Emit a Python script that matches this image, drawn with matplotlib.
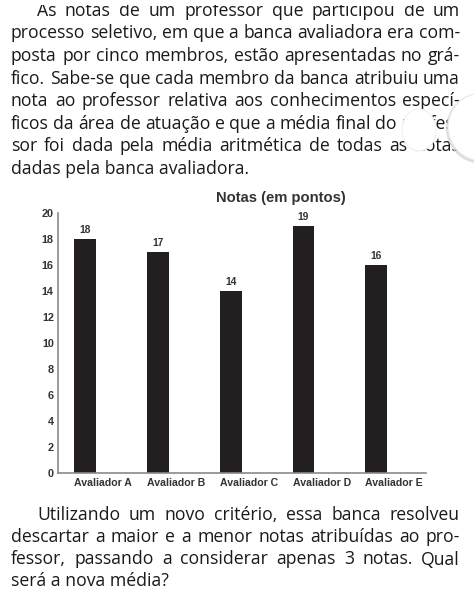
import matplotlib
matplotlib.use("Agg")
import matplotlib.pyplot as plt
from matplotlib.patches import Ellipse, Rectangle

# ---- data ----
avaliadores = ["Avaliador A", "Avaliador B", "Avaliador C", "Avaliador D", "Avaliador E"]
notas = [18, 17, 14, 19, 16]
yticks = [0, 2, 4, 6, 8, 10, 12, 14, 16, 18, 20]
titulo = "Notas (em pontos)"

para1 = [
    "As notas de um professor que participou de um",
    "processo seletivo, em que a banca avaliadora era com-",
    "posta por cinco membros, estão apresentadas no grá-",
    "fico. Sabe-se que cada membro da banca atribuiu uma",
    "nota ao professor relativa aos conhecimentos especí-",
    "ficos da área de atuação e que a média final do profes-",
    "sor foi dada pela média aritmética de todas as notas",
    "dadas pela banca avaliadora.",
]
para2 = [
    "Utilizando um novo critério, essa banca resolveu",
    "descartar a maior e a menor notas atribuídas ao pro-",
    "fessor, passando a considerar apenas 3 notas. Qual",
    "será a nova média?",
]

W, H = 474, 597
fig = plt.figure(figsize=(W / 100, H / 100), dpi=100)
fig.patch.set_facecolor("white")
renderer = fig.canvas.get_renderer()

def fx(x):
    return x / W

def fy(y):
    return 1 - y / H

BODY_FONT = "Open Sans"
TXT_COLOR = "#1a1a1a"

# calibrate body font size from a reference line width (layout only)
probe = fig.text(0, 0, para1[-1], family=BODY_FONT, fontsize=12)
w12 = probe.get_window_extent(renderer).width
probe.remove()
BODY_SIZE = 12 * 237 / w12

def draw_line(text, xl, xr, ybase, justify):
    if not justify:
        fig.text(fx(xl), fy(ybase), text, family=BODY_FONT, fontsize=BODY_SIZE,
                 color=TXT_COLOR, va="baseline", ha="left")
        return
    words = text.split(" ")
    objs = []
    widths = []
    for wd in words:
        t = fig.text(0, fy(ybase), wd, family=BODY_FONT, fontsize=BODY_SIZE,
                     color=TXT_COLOR, va="baseline", ha="left")
        objs.append(t)
        widths.append(t.get_window_extent(renderer).width)
    gap = (xr - xl - sum(widths)) / max(len(words) - 1, 1)
    x = xl
    for t, wd in zip(objs, widths):
        t.set_x(fx(x))
        x += wd + gap

XL, XR, INDENT = 11, 460, 37
base1 = [16, 38.5, 61, 84, 106.5, 129, 151.5, 174]
for i, line in enumerate(para1):
    xl = INDENT if i == 0 else XL
    draw_line(line, xl, XR, base1[i], justify=(i < len(para1) - 1))

base2 = [520, 542.5, 564.5, 586.5]
for i, line in enumerate(para2):
    xl = INDENT if i == 0 else XL
    draw_line(line, xl, XR, base2[i], justify=(i < len(para2) - 1))

# ---- chart ----
BAR_W = 0.30
ax = fig.add_axes([fx(58), fy(472.7), fx(426) - fx(58), fy(212.7) - fy(472.7)])
xpos = list(range(len(notas)))
ax.bar(xpos, notas, width=BAR_W, color="#231f20", zorder=2)
ax.set_xlim(-0.374, 4.683)
ax.set_ylim(0, 20)
ax.set_yticks(yticks)
ax.set_yticklabels([str(v) for v in yticks])
ax.set_xticks([x - BAR_W / 2 for x in xpos])
ax.set_xticklabels(avaliadores, ha="left")
for s in ["top", "right"]:
    ax.spines[s].set_visible(False)
for s in ["left", "bottom"]:
    ax.spines[s].set_color("#8a8a8a")
    ax.spines[s].set_linewidth(1.2)
ax.tick_params(axis="both", length=0)
ax.tick_params(axis="y", pad=3)
ax.tick_params(axis="x", pad=3.5)
for lab in ax.get_yticklabels():
    lab.set_family("Liberation Sans"); lab.set_weight("bold")
    lab.set_fontsize(7.8); lab.set_color("#333333")
for lab in ax.get_xticklabels():
    lab.set_family("Liberation Sans"); lab.set_weight("bold")
    lab.set_fontsize(7.6); lab.set_color("#333333")
for xi, v in zip(xpos, notas):
    ax.annotate(str(v), (xi, v), xytext=(0, 3), textcoords="offset points",
                ha="center", va="bottom", family="Liberation Sans",
                weight="bold", fontsize=7.4, color="#333333")
fig.text(fx(280.5), fy(202), titulo, family="Liberation Sans", weight="bold",
         fontsize=10.6, color="#333333", ha="center", va="baseline")

# ---- screen overlay artifacts (UI circles) ----
fig.patches.append(Ellipse((fx(419), fy(130)), 34 / W, 42 / H, transform=fig.transFigure,
                           facecolor="white", edgecolor="#f0f0f0", linewidth=0.8,
                           zorder=5))
fig.patches.append(Ellipse((fx(481), fy(128.5)), 70 / W, 70 / H,
                           transform=fig.transFigure, facecolor="#d0d0d0",
                           edgecolor="none", alpha=0.7, zorder=5))
fig.patches.append(Ellipse((fx(482), fy(127)), 68 / W, 68 / H, transform=fig.transFigure,
                           facecolor="white", edgecolor="#e6e6e6", linewidth=0.8,
                           zorder=6))
fig.patches.append(Rectangle((0, fy(5)), 1, 5 / H, transform=fig.transFigure,
                             facecolor="white", edgecolor="none", zorder=6))

fig.savefig("out.png", dpi=100, facecolor="white")
